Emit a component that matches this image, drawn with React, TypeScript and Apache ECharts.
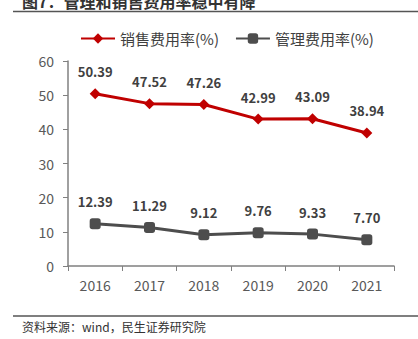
import React, { useEffect, useRef } from "react";
import * as echarts from "echarts";

const years = ["2016", "2017", "2018", "2019", "2020", "2021"];
const salesRate = [50.39, 47.52, 47.26, 42.99, 43.09, 38.94];
const mgmtRate = [12.39, 11.29, 9.12, 9.76, 9.33, 7.7];
const seriesNames = ["销售费用率(%)", "管理费用率(%)"];
const titleText = "图7：管理和销售费用率稳中有降";
const sourceText = "资料来源：wind，民生证券研究院";

const FONT = "'Noto Sans CJK SC', 'Open Sans', sans-serif";

export default function App() {
  const ref = useRef<HTMLDivElement>(null);
  useEffect(() => {
    if (!ref.current) return;
    const chart = echarts.init(ref.current, undefined, { renderer: "svg" });
    chart.setOption({
      animation: false,
      backgroundColor: "#ffffff",
      textStyle: { fontFamily: FONT },
      graphic: [
        {
          type: "text",
          left: 22,
          top: -7,
          style: { text: titleText, font: `bold 16px ${FONT}`, fill: "#333333" },
        },
        {
          type: "line",
          shape: { x1: 13, y1: 11.5, x2: 418, y2: 11.5 },
          style: { stroke: "#555555", lineWidth: 1.5 },
        },
        {
          type: "line",
          shape: { x1: 13, y1: 316, x2: 418, y2: 316 },
          style: { stroke: "#555555", lineWidth: 1.5 },
        },
        {
          type: "text",
          left: 22,
          top: 320,
          style: { text: sourceText, font: `12px ${FONT}`, fill: "#333333" },
        },
      ],
      legend: {
        top: 26,
        left: 75,
        itemWidth: 34,
        itemHeight: 13,
        itemGap: 16,
        textStyle: { fontSize: 15, color: "#404040", fontFamily: FONT },
        data: [seriesNames[0], seriesNames[1]],
      },
      grid: { left: 68, right: 24, top: 61, bottom: 73 },
      xAxis: {
        type: "category",
        data: years,
        boundaryGap: true,
        axisLine: { lineStyle: { color: "#808080", width: 1.5 } },
        axisTick: { show: true, inside: false, length: 5, lineStyle: { color: "#808080" } },
        axisLabel: { fontSize: 14, color: "#595959", margin: 12, fontFamily: FONT },
      },
      yAxis: {
        type: "value",
        min: 0,
        max: 60,
        interval: 10,
        splitLine: { show: false },
        axisLine: { show: true, lineStyle: { color: "#808080", width: 1.5 } },
        axisTick: { show: true, length: 5, lineStyle: { color: "#808080" } },
        axisLabel: { fontSize: 14, color: "#595959", margin: 14, fontFamily: FONT },
      },
      series: [
        {
          name: seriesNames[0],
          type: "line",
          data: salesRate,
          symbol: "diamond",
          symbolSize: 11,
          itemStyle: { color: "#C00000" },
          lineStyle: { color: "#C00000", width: 3 },
          label: {
            show: true,
            position: "top",
            distance: 10,
            fontSize: 13,
            fontWeight: "bold",
            color: "#404040",
            formatter: (p: any) => p.value.toFixed(2),
          },
        },
        {
          name: seriesNames[1],
          type: "line",
          data: mgmtRate,
          symbol: "roundRect",
          symbolSize: 11,
          itemStyle: { color: "#4D4D4D" },
          lineStyle: { color: "#4D4D4D", width: 3 },
          label: {
            show: true,
            position: "top",
            distance: 10,
            fontSize: 13,
            fontWeight: "bold",
            color: "#404040",
            formatter: (p: any) => p.value.toFixed(2),
          },
        },
      ],
    });
    return () => chart.dispose();
  }, []);
  return (
    <div
      ref={ref}
      style={{ position: "fixed", left: 0, top: 0, width: 418, height: 339 }}
    />
  );
}
